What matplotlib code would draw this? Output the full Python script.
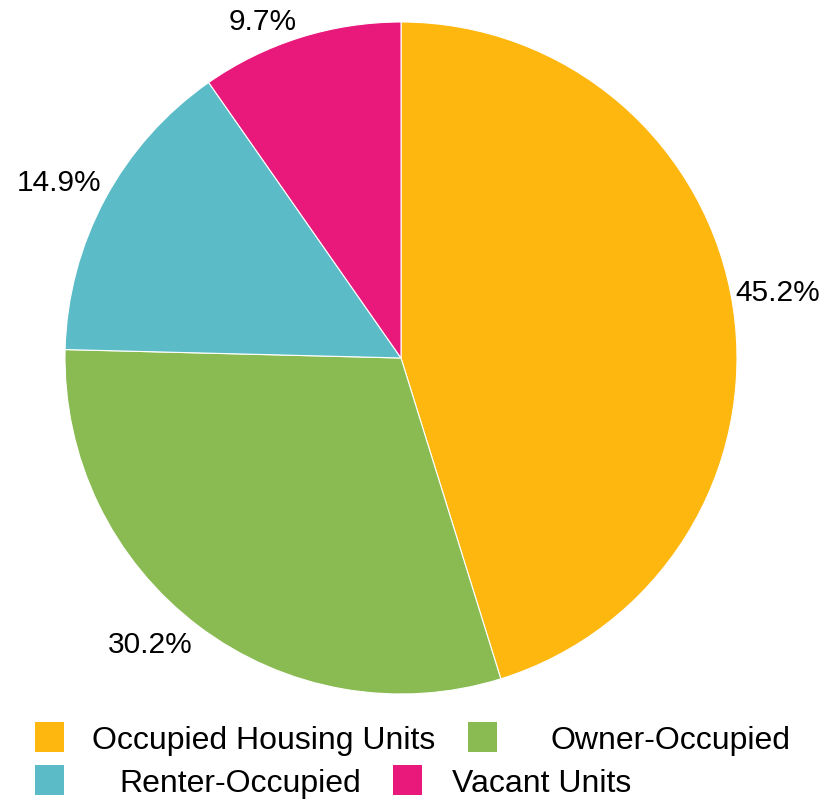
import matplotlib
matplotlib.use('Agg')
import matplotlib.pyplot as plt
from matplotlib.patches import Rectangle

plt.rcParams['font.family'] = ['Liberation Sans', 'DejaVu Sans']

labels = ['Occupied Housing Units', 'Owner-Occupied', 'Renter-Occupied', 'Vacant Units']
values = [45.2, 30.2, 14.9, 9.7]
colors = ['#FDB70F', '#8ABB53', '#5BBBC7', '#E8197A']

W, H = 835, 801
fig = plt.figure(figsize=(W / 100, H / 100), dpi=100)

# pie centre and radius in pixels
cx, cy, r = 401, 358, 336
ax = fig.add_axes([(cx - r) / W, 1 - (cy + r) / H, 2 * r / W, 2 * r / H])
wedges, texts, autotexts = ax.pie(
    values, colors=colors, startangle=90, counterclock=False,
    autopct='%.1f%%', pctdistance=1.13,
    wedgeprops=dict(linewidth=0.8, edgecolor='white'),
    textprops=dict(fontsize=21.5, color='black'))
ax.set_aspect('equal')
ax.set_xlim(-1, 1)
ax.set_ylim(-1, 1)
ax.axis('off')

# label centres (pixels), nudged like the original layout
label_px = [(778, 293), (150, 645), (59, 183), (263, 22)]
for t, (px, py) in zip(autotexts, label_px):
    t.set_position(((px - cx) / r, (cy - py) / r))
    t.set_clip_on(False)

# legend: two columns, text centred in each column
rows_y = [737, 780]
box_x = [[35, 468], [35, 393]]
text_cx = [[264, 671], [240, 542]]
for i, (lab, col) in enumerate(zip(labels, colors)):
    row, c = divmod(i, 2)
    y = rows_y[row]
    fig.patches.append(Rectangle((box_x[row][c] / W, 1 - (y + 15) / H),
                                 29 / W, 30 / H, transform=fig.transFigure,
                                 facecolor=col, edgecolor='none'))
    fig.text(text_cx[row][c] / W, 1 - (y + 4) / H, lab, fontsize=23,
             ha='center', va='center')

fig.savefig('out.png', dpi=100)
